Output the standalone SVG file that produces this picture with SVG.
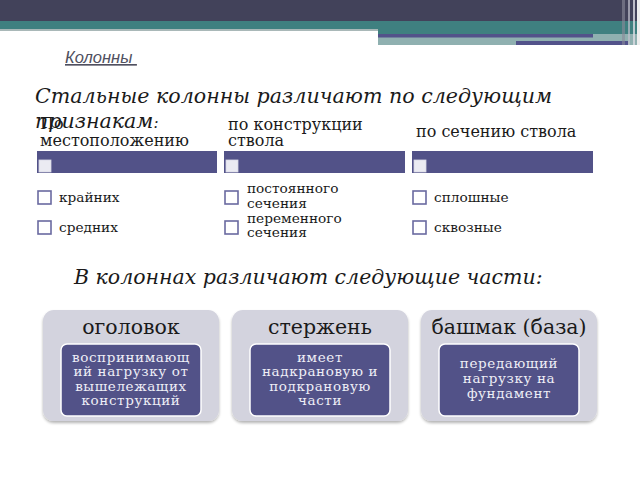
<svg xmlns="http://www.w3.org/2000/svg" width="640" height="480" viewBox="0 0 640 480">
<defs>
<style>
.serif{font-family:"DejaVu Serif","Liberation Serif",serif;fill:#1a1a1a}
.hdr{font-size:16px}
.item{font-size:13.7px}
.bar{fill:#525288}
.sq{fill:#ebebf2;stroke:#d8d8e6;stroke-width:0.8}
.cb{fill:#ffffff;stroke:#6a6aa0;stroke-width:1.6}
.outer{fill:#d3d3de}
.inner{fill:#525288;stroke:#ffffff;stroke-width:1.5}
.ptitle{font-size:20.5px;text-anchor:middle}
.ptext{font-size:13.5px;fill:#eeeef6;text-anchor:middle;letter-spacing:0.6px}
</style>
<filter id="sh" x="-10%" y="-10%" width="120%" height="120%">
<feGaussianBlur in="SourceAlpha" stdDeviation="1.5"/>
<feOffset dx="0" dy="1.5" result="b"/>
<feComponentTransfer><feFuncA type="linear" slope="0.3"/></feComponentTransfer>
<feMerge><feMergeNode/><feMergeNode in="SourceGraphic"/></feMerge>
</filter>
</defs>
<rect width="640" height="480" fill="#ffffff"/>
<g id="header-decor">
<rect x="0" y="0" width="640" height="21" fill="#42425a"/>
<rect x="0" y="21" width="640" height="9" fill="#3f8080"/>
<rect x="0" y="29" width="378" height="2" fill="#a9b8b8"/>
<rect x="378" y="30" width="262" height="15" fill="#8fb0b0"/>
<rect x="378" y="30" width="262" height="4" fill="#3f8080"/>
<rect x="378" y="34" width="215" height="3.5" fill="#52528a"/>
<rect x="516" y="41" width="112" height="4" fill="#52528a"/>
<rect x="622" y="0" width="3" height="45" fill="#8a8a9a" opacity="0.6"/>
<rect x="628" y="0" width="2" height="45" fill="#c0c0cc" opacity="0.7"/>
<rect x="633" y="0" width="2" height="45" fill="#dcdce4" opacity="0.8"/>
<rect x="637" y="0" width="3" height="45" fill="#eeeeee"/>
</g>
<text id="title" x="65" y="63" font-family="Liberation Sans, Arial, sans-serif" font-size="16.5" font-style="italic" fill="#505060" text-decoration="underline" xml:space="preserve">Колонны </text>
<text id="heading1" class="serif" x="35" y="103" font-size="20.6" font-style="italic">Стальные колонны различают по следующим</text>
<text id="heading1b" class="serif" x="35" y="128" font-size="20.6" font-style="italic">признакам<tspan font-size="15">:</tspan></text>
<g id="col1">
<text class="serif hdr" x="40" y="129">По</text>
<text class="serif hdr" x="40" y="146">местоположению</text>
<rect class="bar" x="37" y="151" width="180" height="22"/>
<rect class="sq" x="39" y="160" width="12" height="12"/>
<rect class="cb" x="38" y="191" width="13" height="13"/>
<text class="serif item" x="59" y="202">крайних</text>
<rect class="cb" x="38" y="221" width="13" height="13"/>
<text class="serif item" x="59" y="232">средних</text>
</g>
<g id="col2">
<text class="serif hdr" x="228" y="130">по конструкции</text>
<text class="serif hdr" x="228" y="146">ствола</text>
<rect class="bar" x="224" y="151" width="181" height="22"/>
<rect class="sq" x="226" y="160" width="12" height="12"/>
<rect class="cb" x="225" y="191" width="13" height="13"/>
<text class="serif item" x="247" y="193">постоянного</text>
<text class="serif item" x="247" y="208">сечения</text>
<rect class="cb" x="225" y="221" width="13" height="13"/>
<text class="serif item" x="247" y="223">переменного</text>
<text class="serif item" x="247" y="237">сечения</text>
</g>
<g id="col3">
<text class="serif hdr" x="416" y="137">по сечению ствола</text>
<rect class="bar" x="412" y="151" width="181" height="22"/>
<rect class="sq" x="414" y="160" width="12" height="12"/>
<rect class="cb" x="413" y="191" width="13" height="13"/>
<text class="serif item" x="434" y="202">сплошные</text>
<rect class="cb" x="413" y="221" width="13" height="13"/>
<text class="serif item" x="434" y="232">сквозные</text>
</g>
<text id="heading2" class="serif" x="74" y="284" font-size="20.5" font-style="italic">В колоннах различают следующие части:</text>
<g id="part1">
<rect class="outer" x="43" y="310" width="176" height="111" rx="11" filter="url(#sh)"/>
<text class="serif ptitle" x="131" y="334">оголовок</text>
<rect class="inner" x="61" y="344" width="140" height="72" rx="6"/>
<text class="serif ptext" x="131" y="362">воспринимающ</text>
<text class="serif ptext" x="131" y="376">ий нагрузку от</text>
<text class="serif ptext" x="131" y="391">вышележащих</text>
<text class="serif ptext" x="131" y="405">конструкций</text>
</g>
<g id="part2">
<rect class="outer" x="232" y="310" width="176" height="111" rx="11" filter="url(#sh)"/>
<text class="serif ptitle" x="320" y="334">стержень</text>
<rect class="inner" x="250" y="344" width="140" height="72" rx="6"/>
<text class="serif ptext" x="320" y="362">имеет</text>
<text class="serif ptext" x="320" y="376">надкрановую и</text>
<text class="serif ptext" x="320" y="391">подкрановую</text>
<text class="serif ptext" x="320" y="405">части</text>
</g>
<g id="part3">
<rect class="outer" x="421" y="310" width="176" height="111" rx="11" filter="url(#sh)"/>
<text class="serif ptitle" x="509" y="334">башмак (база)</text>
<rect class="inner" x="439" y="344" width="140" height="72" rx="6"/>
<text class="serif ptext" x="509" y="368">передающий</text>
<text class="serif ptext" x="509" y="383">нагрузку на</text>
<text class="serif ptext" x="509" y="398">фундамент</text>
</g>
<g id="connectors"></g>
</svg>
